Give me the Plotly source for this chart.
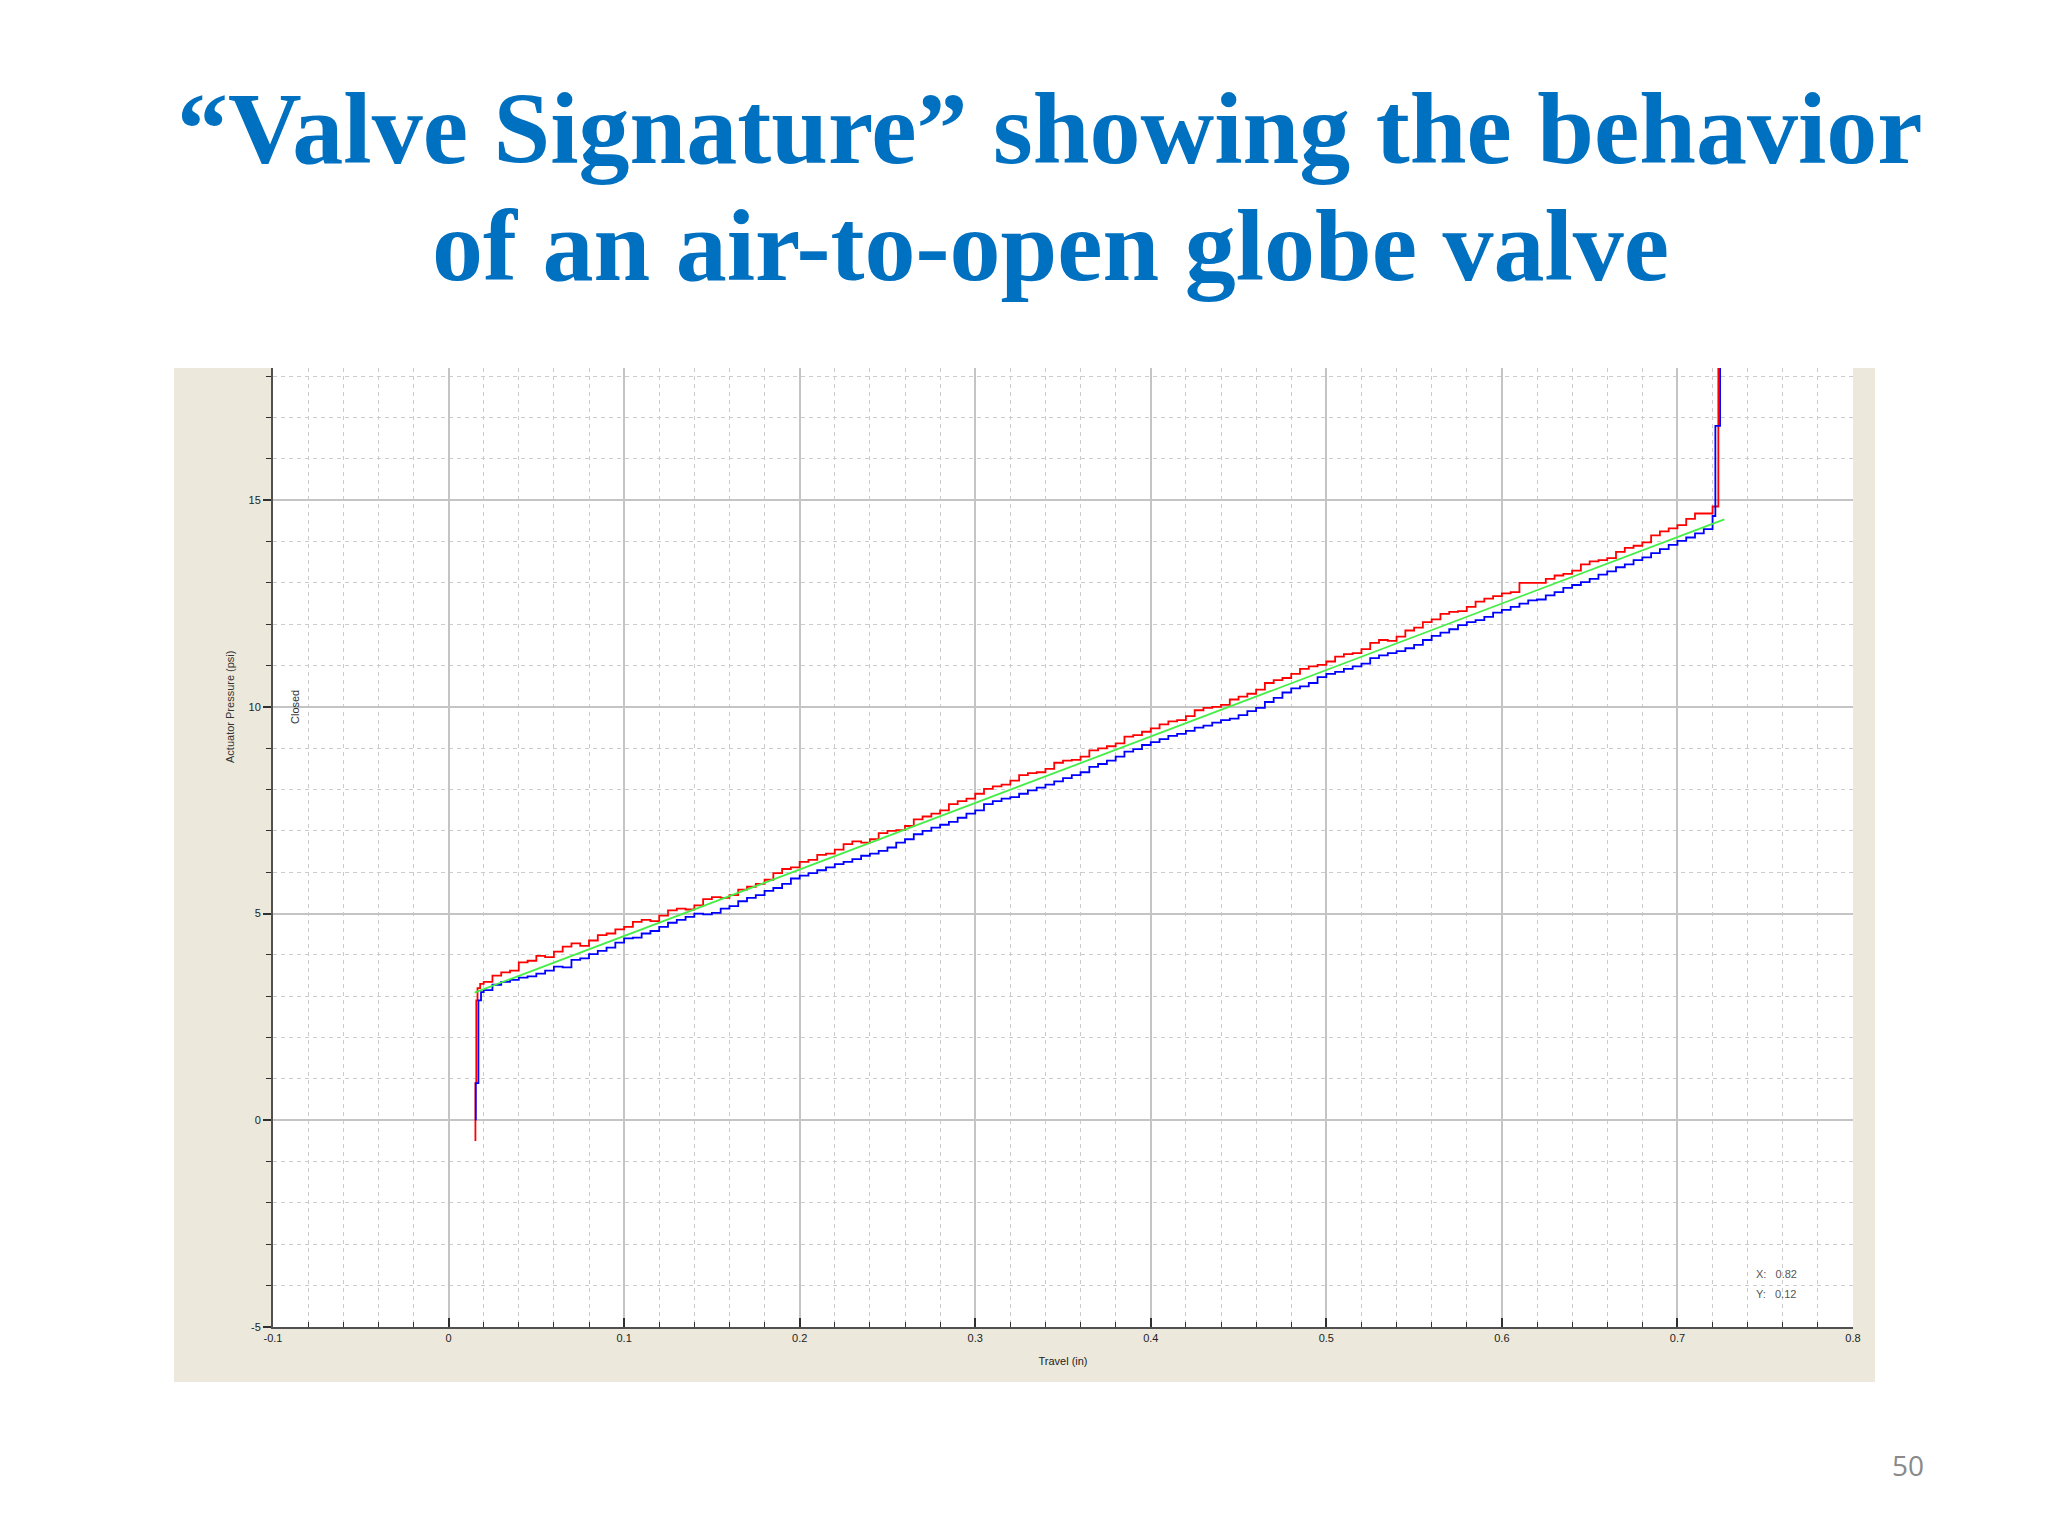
import plotly.graph_objects as go

# ---------------- data ----------------
travel = [
    0.020, 0.025, 0.030, 0.035, 0.040, 0.045, 0.050, 0.055, 0.060, 0.065,
    0.070, 0.075, 0.080, 0.085, 0.090, 0.095, 0.100, 0.105, 0.110, 0.115,
    0.120, 0.125, 0.130, 0.135, 0.140, 0.145, 0.150, 0.155, 0.160, 0.165,
    0.170, 0.175, 0.180, 0.185, 0.190, 0.195, 0.200, 0.205, 0.210, 0.215,
    0.220, 0.225, 0.230, 0.235, 0.240, 0.245, 0.250, 0.255, 0.260, 0.265,
    0.270, 0.275, 0.280, 0.285, 0.290, 0.295, 0.300, 0.305, 0.310, 0.315,
    0.320, 0.325, 0.330, 0.335, 0.340, 0.345, 0.350, 0.355, 0.360, 0.365,
    0.370, 0.375, 0.380, 0.385, 0.390, 0.395, 0.400, 0.405, 0.410, 0.415,
    0.420, 0.425, 0.430, 0.435, 0.440, 0.445, 0.450, 0.455, 0.460, 0.465,
    0.470, 0.475, 0.480, 0.485, 0.490, 0.495, 0.500, 0.505, 0.510, 0.515,
    0.520, 0.525, 0.530, 0.535, 0.540, 0.545, 0.550, 0.555, 0.560, 0.565,
    0.570, 0.575, 0.580, 0.585, 0.590, 0.595, 0.600, 0.605, 0.610, 0.615,
    0.620, 0.625, 0.630, 0.635, 0.640, 0.645, 0.650, 0.655, 0.660, 0.665,
    0.670, 0.675, 0.680, 0.685, 0.690, 0.695, 0.700, 0.705, 0.710, 0.715,
    0.720,
]

pressure_red = [
    3.35, 3.50, 3.58, 3.62, 3.82, 3.86, 3.98, 3.95, 4.08, 4.20,
    4.28, 4.22, 4.35, 4.48, 4.52, 4.62, 4.68, 4.80, 4.85, 4.82,
    4.95, 5.08, 5.12, 5.10, 5.20, 5.35, 5.40, 5.38, 5.45, 5.58,
    5.65, 5.72, 5.82, 5.98, 6.08, 6.12, 6.25, 6.30, 6.42, 6.45,
    6.55, 6.68, 6.75, 6.72, 6.80, 6.95, 7.00, 7.02, 7.12, 7.28,
    7.35, 7.42, 7.50, 7.65, 7.72, 7.78, 7.90, 8.02, 8.08, 8.12,
    8.22, 8.35, 8.40, 8.42, 8.50, 8.65, 8.70, 8.72, 8.80, 8.95,
    9.00, 9.05, 9.12, 9.28, 9.32, 9.40, 9.48, 9.58, 9.65, 9.68,
    9.78, 9.92, 9.98, 10.00, 10.05, 10.18, 10.25, 10.32, 10.42, 10.58,
    10.65, 10.70, 10.80, 10.92, 10.98, 11.02, 11.10, 11.22, 11.28, 11.30,
    11.40, 11.55, 11.62, 11.60, 11.70, 11.85, 11.92, 12.05, 12.12, 12.25,
    12.30, 12.32, 12.42, 12.55, 12.62, 12.68, 12.75, 12.78, 13.00, 13.00,
    13.00, 13.10, 13.18, 13.22, 13.30, 13.45, 13.52, 13.55, 13.60, 13.75,
    13.85, 13.90, 13.98, 14.15, 14.25, 14.32, 14.40, 14.55, 14.68, 14.68,
    14.85,
]

pressure_blue = [
    3.15, 3.28, 3.35, 3.40, 3.45, 3.48, 3.55, 3.62, 3.72, 3.70,
    3.88, 3.92, 4.02, 4.10, 4.18, 4.30, 4.40, 4.42, 4.52, 4.58,
    4.68, 4.78, 4.85, 4.92, 5.00, 4.98, 5.02, 5.12, 5.18, 5.30,
    5.38, 5.45, 5.55, 5.62, 5.72, 5.85, 5.92, 5.98, 6.05, 6.12,
    6.20, 6.25, 6.32, 6.40, 6.45, 6.52, 6.60, 6.72, 6.80, 6.92,
    7.00, 7.08, 7.15, 7.22, 7.32, 7.42, 7.50, 7.65, 7.72, 7.78,
    7.82, 7.90, 7.98, 8.05, 8.12, 8.20, 8.28, 8.35, 8.42, 8.55,
    8.62, 8.70, 8.80, 8.92, 8.98, 9.08, 9.15, 9.22, 9.30, 9.35,
    9.42, 9.50, 9.55, 9.62, 9.68, 9.72, 9.80, 9.90, 9.98, 10.12,
    10.22, 10.35, 10.45, 10.50, 10.58, 10.72, 10.80, 10.85, 10.92, 10.98,
    11.05, 11.18, 11.25, 11.30, 11.35, 11.42, 11.50, 11.62, 11.72, 11.80,
    11.88, 11.98, 12.05, 12.10, 12.18, 12.28, 12.35, 12.42, 12.50, 12.58,
    12.60, 12.70, 12.78, 12.88, 12.95, 13.02, 13.10, 13.20, 13.28, 13.38,
    13.45, 13.55, 13.62, 13.72, 13.82, 13.92, 14.02, 14.10, 14.20, 14.30,
    14.62,
]

# vertical (seating / full-open) segments at the ends of the stroke
red_start_x = [0.0153, 0.0153, 0.0158, 0.0165, 0.0180]
red_start_y = [-0.50, 0.90, 2.90, 3.20, 3.30]
red_end_x = [0.7233, 0.7233]
red_end_y = [14.90, 19.00]

blue_start_x = [0.0155, 0.0155, 0.0170, 0.0170, 0.0185]
blue_start_y = [0.00, 0.90, 1.00, 2.90, 3.10]
blue_end_x = [0.7216, 0.7216, 0.7243, 0.7243]
blue_end_y = [14.62, 16.80, 17.00, 19.00]

fit_x = [0.0148, 0.7267]
fit_y = [3.09, 14.54]

x_tickvals = [-0.1, 0.0, 0.1, 0.2, 0.3, 0.4, 0.5, 0.6, 0.7, 0.8]
x_ticktext = ["-0.1", "0", "0.1", "0.2", "0.3", "0.4", "0.5", "0.6", "0.7", "0.8"]
y_tickvals = [-5, 0, 5, 10, 15]
y_ticktext = ["-5", "0", "5", "10", "15"]

title_line1 = "\u201cValve Signature\u201d showing the behavior"
title_line2 = "of an air-to-open globe valve"

# ---------------- layout geometry (screen pixels) ----------------
W, H = 2040, 1528
OFF = 8                                  # page body margin
PL, PR, PT, PB = 273, 1853, 368, 1327    # plot area edges on screen


def px(x):
    return (x - PL) / (PR - PL)


def py(y):
    return (PB - y) / (PB - PT)


fig = go.Figure()

fig.add_trace(go.Scatter(
    x=red_start_x + travel + red_end_x,
    y=red_start_y + pressure_red + red_end_y,
    mode="lines", line=dict(color="#FF0000", width=1.8, shape="hv"),
    showlegend=False, hoverinfo="skip"))

fig.add_trace(go.Scatter(
    x=blue_start_x + travel + blue_end_x,
    y=blue_start_y + pressure_blue + blue_end_y,
    mode="lines", line=dict(color="#0000FF", width=1.8, shape="hv"),
    showlegend=False, hoverinfo="skip"))

fig.add_trace(go.Scatter(
    x=fit_x, y=fit_y,
    mode="lines", line=dict(color="#44EE44", width=1.8),
    showlegend=False, hoverinfo="skip"))

tick_font = dict(family="Liberation Sans, Arial, sans-serif", size=11, color="#222222")

fig.update_xaxes(
    range=[-0.1, 0.8], tickvals=x_tickvals, ticktext=x_ticktext,
    showline=True, linecolor="#505050", linewidth=2,
    ticks="inside", ticklen=9, tickwidth=2, tickcolor="#303030",
    showgrid=True, gridcolor="#C4C4C4", gridwidth=1.5,
    zeroline=False, tickfont=tick_font,
    title=dict(text="Travel (in)", font=tick_font, standoff=14),
    minor=dict(dtick=0.02, tick0=0, ticks="inside", ticklen=5, tickcolor="#303030",
               tickwidth=1, showgrid=True, gridcolor="#CCCCCC", gridwidth=1,
               griddash="4px,4px"),
)

fig.update_yaxes(
    range=[-5, 18.2], tickvals=y_tickvals, ticktext=y_ticktext,
    showline=True, linecolor="#505050", linewidth=2,
    ticks="outside", ticklen=8, tickwidth=2, tickcolor="#303030",
    showgrid=True, gridcolor="#C4C4C4", gridwidth=1.5,
    zeroline=False, tickfont=tick_font,
    minor=dict(dtick=1, tick0=0, ticks="outside", ticklen=5, tickcolor="#303030",
               tickwidth=1, showgrid=True, gridcolor="#CCCCCC", gridwidth=1,
               griddash="4px,4px"),
)

shapes = [
    dict(type="rect", xref="paper", yref="paper",
         x0=px(174), x1=px(1875), y0=py(1382), y1=py(368),
         fillcolor="#ECE9DC", line=dict(width=0), layer="below"),
    dict(type="rect", xref="paper", yref="paper",
         x0=0, x1=1, y0=0, y1=1,
         fillcolor="#FFFFFF", line=dict(width=0), layer="below"),
]

small = dict(family="Liberation Sans, Arial, sans-serif", size=11, color="#333333")
title_font = dict(family="Liberation Serif, Times New Roman, serif", size=102,
                  color="#0070C0", weight="bold")

annotations = [
    dict(text=title_line1, x=px(1050), y=py(129), xref="paper", yref="paper",
         xanchor="center", yanchor="middle", showarrow=False, font=title_font),
    dict(text=title_line2, x=px(1050), y=py(245), xref="paper", yref="paper",
         xanchor="center", yanchor="middle", showarrow=False, font=title_font),
    dict(text="Actuator Pressure (psi)", x=px(230), y=py(707), xref="paper", yref="paper",
         xanchor="center", yanchor="middle", showarrow=False, textangle=-90, font=small),
    dict(text="Closed", x=px(295), y=py(707), xref="paper", yref="paper",
         xanchor="center", yanchor="middle", showarrow=False, textangle=-90, font=small),
    dict(text="X:&nbsp;&nbsp;&nbsp;0.82", x=px(1754), y=py(1274), xref="paper", yref="paper",
         xanchor="left", yanchor="middle", showarrow=False,
         font=dict(family="Liberation Sans, Arial, sans-serif", size=11, color="#555555")),
    dict(text="Y:&nbsp;&nbsp;&nbsp;0.12", x=px(1754), y=py(1294), xref="paper", yref="paper",
         xanchor="left", yanchor="middle", showarrow=False,
         font=dict(family="Liberation Sans, Arial, sans-serif", size=11, color="#555555")),
    dict(text="50", x=px(1908), y=py(1465), xref="paper", yref="paper",
         xanchor="center", yanchor="middle", showarrow=False,
         font=dict(family="Open Sans, Liberation Sans, sans-serif", size=28, color="#8A8A8A")),
]

fig.update_layout(
    width=W, height=H,
    margin=dict(l=PL - OFF, r=W - (PR - OFF), t=PT - OFF, b=H - (PB - OFF), pad=0),
    paper_bgcolor="#FFFFFF", plot_bgcolor="#FFFFFF",
    shapes=shapes, annotations=annotations,
    showlegend=False,
)

fig.write_html("out.html")
